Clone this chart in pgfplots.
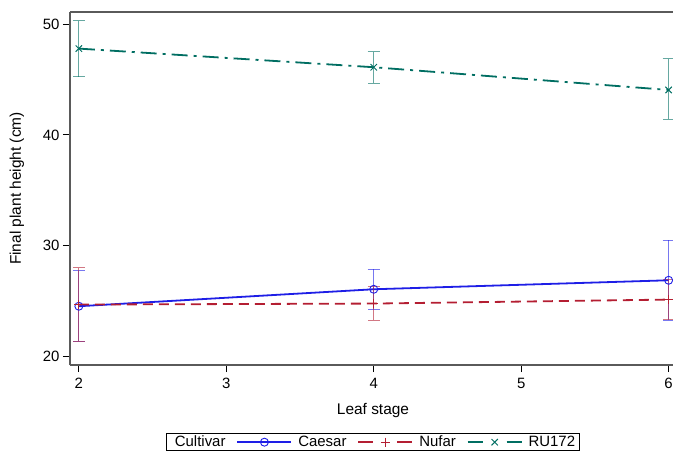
\documentclass[border=0pt]{standalone}
\usepackage{pgfplots}
\pgfplotsset{compat=1.18}
\usepackage{fontspec}
\setmainfont{Liberation Sans}
\definecolor{caesar}{RGB}{30,30,230}
\definecolor{nufar}{RGB}{180,30,50}
\definecolor{ru}{RGB}{0,110,98}
\definecolor{frame}{RGB}{90,90,90}
\newcommand{\tickfont}{\fontsize{15}{17}\selectfont}
\newcommand{\labfont}{\fontsize{15.5}{18}\selectfont}
\newcommand{\legfont}{\fontsize{15}{17}\selectfont}
\begin{document}
\begin{tikzpicture}
\clip (0,0) rectangle (673bp,-453bp);
\begin{axis}[
    at={(70bp,-12bp)}, anchor=north west,
    scale only axis, width=606bp, height=353bp,
    xmin=1.94, xmax=6.05, ymin=19.25, ymax=51.08,
    axis y line*=left, axis x line=box,
    xtick pos=left, ytick pos=left,
    xtick={2,3,4,5,6}, ytick={20,30,40,50},
    tick align=outside, major tick length=7bp,
    axis line style={frame, line width=1.3bp},
    tick style={black, line width=0.8bp},
    /pgf/number format/assume math mode=true,
    xticklabel style={font=\tickfont, yshift=-3bp},
    yticklabel style={font=\tickfont},
    xticklabels={2,3,4,5,6}, yticklabels={20,30,40,50},
    label style={font=\labfont},
    xlabel={Leaf stage}, ylabel={Final plant height (cm)},
    xlabel style={at={(axis description cs:0.5,-0.1275)}, anchor=center},
    ylabel style={at={(axis description cs:-0.0875,0.5)}, anchor=center, rotate=0},
    legend style={at={(0.5,-0.193)}, anchor=north, legend columns=4,
        draw=black, line width=0.8bp, font=\legfont,
        inner xsep=2.5bp, inner ysep=0.5bp,
        /tikz/every even column/.append style={column sep=9bp},
        /tikz/every odd column/.append style={column sep=4bp}},
    legend image code/.code={\draw[mark repeat=2, mark phase=2]
        plot coordinates {(0bp,0bp) (27bp,0bp) (54bp,0bp)};},
    error bars/y dir=both, error bars/y explicit,
]
\addlegendimage{empty legend}
\addlegendentry{Cultivar}
\addplot[caesar, line width=1.8bp, mark=o, mark size=4bp,
    mark options={solid, line width=0.9bp},
    error bars/error bar style={solid, caesar, opacity=0.6, line width=1bp},
    error bars/error mark options={solid, rotate=90, mark size=6bp, caesar, opacity=0.6, line width=1bp}]
    coordinates {
    (2,24.55) +- (0,3.18)
    (4,26.08) +- (0,1.80)
    (6,26.89) +- (0,3.59)
};
\addlegendentry{Caesar}
\addplot[nufar, line width=1.8bp, dash pattern=on 10bp off 6bp, mark=+, mark size=4.5bp,
    mark options={solid, line width=1bp},
    legend image code/.code={
        \draw[solid] (0bp,0bp) -- (15bp,0bp);
        \draw[solid] (39bp,0bp) -- (54bp,0bp);
        \draw plot coordinates {(27bp,0bp)};},
    error bars/error bar style={solid, nufar, opacity=0.6, line width=1bp},
    error bars/error mark options={solid, rotate=90, mark size=6bp, nufar, opacity=0.6, line width=1bp}]
    coordinates {
    (2,24.70) +- (0,3.30)
    (4,24.79) +- (0,1.50)
    (6,25.15) +- (0,1.79)
};
\addlegendentry{Nufar}
\addplot[ru, line width=1.8bp, dash pattern=on 16bp off 6bp on 3bp off 6bp, mark=x, mark size=4.5bp,
    mark options={solid, line width=1bp},
    legend image code/.code={
        \draw[solid] (0bp,0bp) -- (15bp,0bp);
        \draw[solid] (39bp,0bp) -- (54bp,0bp);
        \draw plot coordinates {(27bp,0bp)};},
    error bars/error bar style={solid, ru, opacity=0.6, line width=1bp},
    error bars/error mark options={solid, rotate=90, mark size=6bp, ru, opacity=0.6, line width=1bp}]
    coordinates {
    (2,47.78) += (0,2.52) -= (0,2.53)
    (4,46.10) += (0,1.40) -= (0,1.44)
    (6,44.05) += (0,2.80) -= (0,2.65)
};
\addlegendentry{RU172}
\end{axis}
\end{tikzpicture}
\end{document}
